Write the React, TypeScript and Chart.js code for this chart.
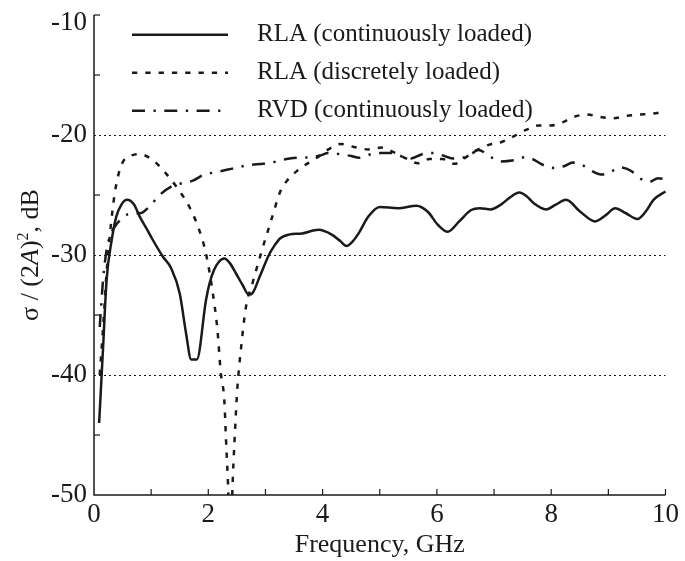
import React, { useEffect, useRef } from "react";
import { Chart, registerables } from "chart.js";

Chart.register(...registerables);

// ---------- data ----------
const seriesLabels = [
  "RLA (continuously loaded)",
  "RLA (discretely loaded)",
  "RVD (continuously loaded)",
];

const rlaContX = [0.09, 0.16, 0.22, 0.31, 0.39, 0.48, 0.58, 0.7, 0.8, 0.92, 1.03, 1.2, 1.35, 1.5, 1.61, 1.7, 1.8, 1.96, 2.02, 2.1, 2.18, 2.28, 2.38, 2.48, 2.6, 2.71, 2.77, 2.9, 3.06, 3.16, 3.26, 3.41, 3.64, 3.93, 4.16, 4.3, 4.42, 4.52, 4.63, 4.8, 5.0, 5.32, 5.64, 5.84, 6.02, 6.19, 6.39, 6.6, 6.75, 6.94, 7.12, 7.28, 7.44, 7.57, 7.7, 7.91, 8.08, 8.26, 8.51, 8.77, 8.95, 9.12, 9.3, 9.51, 9.65, 9.79, 10.0];
const rlaContY = [-44.0, -37.6, -32.1, -28.75, -26.8, -25.8, -25.4, -25.8, -26.8, -27.8, -28.75, -30.1, -31.1, -33.2, -36.5, -38.7, -38.7, -33.75, -32.4, -31.25, -30.6, -30.3, -30.7, -31.5, -32.5, -33.3, -33.2, -31.8, -30.0, -29.2, -28.6, -28.3, -28.2, -27.9, -28.3, -28.8, -29.25, -28.9, -28.2, -26.8, -26.0, -26.1, -25.9, -26.4, -27.5, -28.06, -27.2, -26.25, -26.1, -26.2, -25.8, -25.2, -24.8, -25.1, -25.7, -26.2, -25.8, -25.4, -26.4, -27.2, -26.7, -26.1, -26.5, -27.0, -26.4, -25.4, -24.7];

const rlaDiscX = [0.1, 0.16, 0.22, 0.28, 0.365, 0.48, 0.66, 0.8, 1.03, 1.23, 1.44, 1.67, 1.84, 1.96, 2.07, 2.16, 2.22, 2.28, 2.31, 2.35, 2.385, 2.42, 2.46, 2.51, 2.57, 2.66, 2.77, 2.92, 3.12, 3.26, 3.38, 3.55, 3.76, 3.93, 4.1, 4.32, 4.55, 4.8, 5.03, 5.23, 5.44, 5.67, 5.87, 6.1, 6.31, 6.48, 6.68, 6.92, 7.12, 7.35, 7.55, 7.79, 7.99, 8.22, 8.39, 8.63, 8.86, 9.09, 9.32, 9.55, 9.79, 10.0];
const rlaDiscY = [-40.0, -36.0, -31.5, -28.2, -24.8, -22.5, -21.7, -21.6, -22.1, -23.05, -24.3, -26.0, -27.9, -29.9, -32.9, -36.25, -39.9, -42.1, -45.4, -49.8, -56.0, -49.8, -45.4, -41.0, -37.9, -34.3, -32.4, -29.9, -26.8, -24.7, -23.8, -23.0, -22.3, -21.8, -21.2, -20.75, -21.0, -21.2, -21.05, -21.4, -21.9, -22.35, -22.0, -22.0, -22.4, -21.95, -21.3, -20.8, -20.6, -20.1, -19.6, -19.2, -19.2, -18.9, -18.5, -18.3, -18.5, -18.6, -18.4, -18.3, -18.2, -18.05];

const rvdX = [0.1, 0.16, 0.22, 0.3, 0.4, 0.48, 0.6, 0.83, 0.96, 1.15, 1.35, 1.55, 1.73, 1.93, 2.13, 2.42, 2.71, 2.97, 3.2, 3.37, 3.54, 3.8, 3.96, 4.1, 4.3, 4.5, 4.64, 4.85, 5.03, 5.2, 5.4, 5.55, 5.74, 5.95, 6.1, 6.28, 6.45, 6.6, 6.72, 6.97, 7.12, 7.35, 7.55, 7.67, 7.86, 8.05, 8.22, 8.38, 8.54, 8.75, 8.87, 9.03, 9.2, 9.4, 9.55, 9.72, 9.87, 10.0];
const rvdY = [-36.0, -32.0, -29.6, -28.2, -27.4, -27.0, -26.6, -26.5, -26.0, -25.0, -24.3, -24.0, -23.8, -23.3, -23.1, -22.8, -22.5, -22.4, -22.2, -22.0, -21.9, -21.85, -21.7, -21.5, -21.6, -21.75, -21.9, -21.6, -21.5, -21.5, -21.8, -21.95, -21.6, -21.5, -21.7, -21.95, -21.9, -21.6, -21.25, -21.9, -22.2, -22.1, -21.85, -22.0, -22.5, -22.75, -22.6, -22.3, -22.5, -23.1, -23.3, -23.1, -22.7, -23.0, -23.6, -23.9, -23.6, -23.7];

const xLabelValues = [0, 2, 4, 6, 8, 10];
const yLabelValues = [-10, -20, -30, -40, -50];
const gridLevels = [-20, -30, -40];

// ---------- styling ----------
const FONT = "'Liberation Serif', 'Times New Roman', serif";
const INK = "#1a1a1a";
const dashes: number[][] = [[], [5.3, 8], [13, 8.5, 2.3, 8.5]];

const toPoints = (xs: number[], ys: number[]) => xs.map((x, i) => ({ x, y: ys[i] }));

const framePlugin = {
  id: "frame",
  beforeDatasetsDraw(chart: any) {
    const { ctx, chartArea: a, scales } = chart;
    const xs = scales.x;
    const ys = scales.y;
    ctx.save();
    ctx.strokeStyle = INK;
    ctx.lineWidth = 1;
    ctx.setLineDash([2, 3]);
    for (const v of gridLevels) {
      const y = Math.round(ys.getPixelForValue(v)) + 0.5;
      ctx.beginPath();
      ctx.moveTo(a.left, y);
      ctx.lineTo(a.right, y);
      ctx.stroke();
    }
    ctx.setLineDash([]);
    ctx.lineWidth = 1.2;
    for (const t of xs.ticks) {
      if (t.value === xs.min) continue;
      const x = xs.getPixelForValue(t.value);
      ctx.beginPath();
      ctx.moveTo(x, a.bottom);
      ctx.lineTo(x, a.bottom - 6);
      ctx.stroke();
    }
    for (const t of ys.ticks) {
      if (t.value === ys.min || gridLevels.includes(t.value)) continue;
      const y = ys.getPixelForValue(t.value);
      ctx.beginPath();
      ctx.moveTo(a.left, y);
      ctx.lineTo(a.left + 6, y);
      ctx.stroke();
    }
    ctx.lineWidth = 1.5;
    ctx.beginPath();
    ctx.moveTo(a.left, a.top);
    ctx.lineTo(a.left, a.bottom);
    ctx.lineTo(a.right, a.bottom);
    ctx.stroke();
    ctx.restore();
  },
};

const legendPlugin = {
  id: "customLegend",
  afterDatasetsDraw(chart: any) {
    const { ctx } = chart;
    ctx.save();
    chart.data.datasets.forEach((ds: any, i: number) => {
      const y = 34.7 + 38 * i;
      ctx.strokeStyle = INK;
      ctx.lineWidth = 2.5;
      ctx.lineCap = "butt";
      ctx.setLineDash(ds.borderDash || []);
      ctx.beginPath();
      ctx.moveTo(132, y);
      ctx.lineTo(228, y);
      ctx.stroke();
      ctx.setLineDash([]);
      ctx.fillStyle = INK;
      ctx.font = `25px ${FONT}`;
      ctx.textAlign = "left";
      ctx.textBaseline = "middle";
      ctx.fillText(ds.label, 257, y);
    });
    ctx.restore();
  },
};

const yTitlePlugin = {
  id: "yTitle",
  afterDraw(chart: any) {
    const { ctx, chartArea: a } = chart;
    const parts = [
      { t: "\u03c3 / (2", f: `26px ${FONT}`, dy: 0 },
      { t: "A", f: `italic 26px ${FONT}`, dy: 0 },
      { t: ")", f: `26px ${FONT}`, dy: 0 },
      { t: "2", f: `16px ${FONT}`, dy: -10 },
      { t: ", dB", f: `26px ${FONT}`, dy: 0 },
    ];
    ctx.save();
    let total = 0;
    const widths = parts.map((p) => {
      ctx.font = p.f;
      const w = ctx.measureText(p.t).width;
      total += w;
      return w;
    });
    const cy = (a.top + a.bottom) / 2;
    ctx.translate(30, cy);
    ctx.rotate(-Math.PI / 2);
    ctx.fillStyle = INK;
    ctx.textAlign = "left";
    ctx.textBaseline = "alphabetic";
    let u = -total / 2;
    parts.forEach((p, i) => {
      ctx.font = p.f;
      ctx.fillText(p.t, u, 8 + p.dy);
      u += widths[i];
    });
    ctx.restore();
  },
};

export default function App() {
  const ref = useRef<HTMLCanvasElement | null>(null);

  useEffect(() => {
    if (!ref.current) return;
    const seriesX = [rlaContX, rlaDiscX, rvdX];
    const seriesY = [rlaContY, rlaDiscY, rvdY];
    const yMax = -10;
    const chart = new Chart(ref.current, {
      type: "line",
      data: {
        datasets: seriesLabels.map((label, i) => ({
          label,
          data: toPoints(seriesX[i], seriesY[i]),
          borderColor: INK,
          backgroundColor: INK,
          borderWidth: 2.5,
          borderDash: dashes[i],
          borderCapStyle: "butt" as const,
          pointRadius: 0,
          fill: false,
          cubicInterpolationMode: "monotone" as const,
          clip: { left: 10, top: 10, right: 10, bottom: 0 },
        })),
      },
      options: {
        responsive: false,
        animation: false,
        events: [],
        layout: { padding: { left: 0, top: 15, right: 16, bottom: 0 } },
        plugins: {
          legend: { display: false },
          tooltip: { enabled: false },
        },
        scales: {
          x: {
            type: "linear",
            min: 0,
            max: 10,
            grid: { display: false, drawTicks: false },
            border: { display: false },
            ticks: {
              stepSize: 1,
              autoSkip: false,
              maxRotation: 0,
              padding: 6,
              color: INK,
              font: { family: FONT, size: 27, lineHeight: 1 },
              callback: (v: any) => (xLabelValues.includes(Number(v)) ? String(v) : ""),
            },
            title: {
              display: true,
              text: "Frequency, GHz",
              color: INK,
              font: { family: FONT, size: 26, lineHeight: 1 },
              padding: { top: 0, bottom: 3 },
            },
            afterFit: (scale: any) => {
              scale.height = 66;
            },
          },
          y: {
            type: "linear",
            min: -50,
            max: yMax,
            grid: { display: false, drawTicks: false },
            border: { display: false },
            ticks: {
              stepSize: 5,
              autoSkip: false,
              padding: 7,
              color: INK,
              font: (c: any) => ({
                family: FONT,
                size: 27,
                lineHeight: c.tick && c.tick.value === yMax ? 0.55 : 1,
              }),
              callback: (v: any) => {
                const n = Number(v);
                if (!yLabelValues.includes(n)) return "";
                // top label sits just below the axis end, as in the reference
                return n === yMax ? ["", String(n)] : String(n);
              },
            },
            afterFit: (scale: any) => {
              scale.width = 94;
              scale.paddingTop = 0;
              scale.paddingBottom = 0;
            },
          },
        },
      },
      plugins: [framePlugin, legendPlugin, yTitlePlugin],
    });
    return () => chart.destroy();
  }, []);

  return (
    <div style={{ position: "absolute", left: 0, top: 0, width: 685, height: 561, background: "#fff" }}>
      <canvas ref={ref} width={685} height={561} style={{ display: "block" }} />
    </div>
  );
}
